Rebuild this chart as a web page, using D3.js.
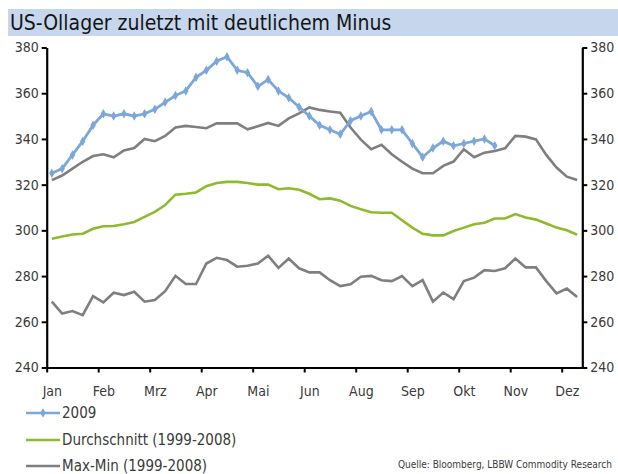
<!DOCTYPE html>
<html>
<head>
<meta charset="utf-8">
<script src="https://cdn.jsdelivr.net/npm/d3@7"></script>
<style>
  body { margin: 0; background: #fff; }
  text { font-family: "Liberation Sans Narrow", "DejaVu Sans Condensed", "Open Sans", sans-serif; }
</style>
</head>
<body>
<svg width="618" height="474"></svg>
<script>
// weekly values, Jan..Dez (52 weeks)
const monthLabels = ['Jan', 'Feb', 'Mrz', 'Apr', 'Mai', 'Jun', 'Aug', 'Sep', 'Okt', 'Nov', 'Dez'];
const labelWeeks = [0, 5, 10, 15, 20, 25, 30, 35, 40, 45, 50];
const yTicks = [240, 260, 280, 300, 320, 340, 360, 380];

const stocks2009 = [325, 327, 333, 339, 346, 351, 350, 351, 350, 351, 353, 356, 359, 361, 367, 370, 374, 376,
  370, 369, 363, 366, 361, 358, 354, 350, 346, 344, 342, 348, 350, 352, 344, 344, 344, 338, 332, 336,
  339, 337, 338, 339, 340, 337];

const average = [296.3, 297.3, 298.2, 298.5, 300.7, 301.8, 301.9, 302.7, 303.7, 305.9, 308.1, 311.1, 315.6,
  316, 316.6, 319.3, 320.7, 321.2, 321.2, 320.7, 320, 320, 318, 318.4, 317.8, 316, 313.6, 314, 313,
  310.7, 309.2, 307.9, 307.7, 307.7, 304.4, 301.2, 298.5, 297.8, 297.8, 299.7, 301.2, 302.7, 303.3,
  305.2, 305.2, 307.1, 305.6, 304.7, 303, 301.2, 300, 298.1];

const maxRange = [322, 324, 327, 330, 332.5, 333.3, 332, 335, 336, 340, 339, 341.3, 345, 345.7, 345.2, 344.7,
  346.8, 346.8, 346.8, 344.2, 345.5, 347, 345.7, 349, 351.2, 353.8, 352.7, 352, 351.5, 345, 339.7, 335.5,
  337.4, 333.3, 330, 327, 325, 325, 328.2, 330.1, 335.5, 332, 334, 334.7, 335.9, 341.3, 341, 339.8, 333,
  327.5, 323.5, 322];

const minRange = [268.8, 263.6, 264.7, 262.9, 271.2, 268.5, 272.7, 271.7, 273.1, 268.8, 269.5, 273.4, 280.1,
  276.5, 276.5, 285.5, 288, 287, 284.1, 284.5, 285.5, 288.9, 283.6, 287.7, 283.4, 281.6, 281.6, 278.2,
  275.6, 276.4, 279.7, 280.1, 278.2, 277.8, 280, 275.6, 278.2, 268.8, 272.8, 269.9, 277.8, 279.3, 282.6,
  282.2, 283.4, 287.7, 283.8, 283.8, 277.8, 272.4, 274.5, 270.8];

const blue = '#7ba7d9', green = '#8dbb2c', grey = '#7f7f7f', labelColor = '#3a3a3a';

const svg = d3.select('svg');

const plotLeft = 46.7, plotRight = 582.3, plotTop = 47.5, plotBottom = 367.5;

// x: week slots, points sit in the middle of each slot
const x = d3.scaleLinear().domain([0, 52]).range([plotLeft, plotRight]);
const y = d3.scaleLinear().domain([240, 380]).range([plotBottom, plotTop]);
const px = (d, i) => x(i + 0.5);

// title band
svg.append('rect')
  .attr('x', 8).attr('y', 9)
  .attr('width', 610).attr('height', 27)
  .attr('fill', '#c6d7ed');
svg.append('text')
  .attr('x', 10).attr('y', 30)
  .attr('font-size', 21)
  .attr('fill', '#151515')
  .text('US-Ollager zuletzt mit deutlichem Minus');

// axes
const yLeft = svg.append('g')
  .attr('transform', `translate(${plotLeft},0)`)
  .call(d3.axisLeft(y).tickValues(yTicks).tickSize(5).tickSizeOuter(0).tickPadding(3));
const yRight = svg.append('g')
  .attr('transform', `translate(${plotRight},0)`)
  .call(d3.axisRight(y).tickValues(yTicks).tickSize(5).tickSizeOuter(0).tickPadding(3));
const xAxis = svg.append('g')
  .attr('transform', `translate(0,${plotBottom})`)
  .call(d3.axisBottom(x).tickValues(labelWeeks).tickSize(5).tickSizeOuter(0)
    .tickFormat((d, i) => monthLabels[i]).tickPadding(14));

xAxis.selectAll('text').attr('dx', (x(1) - x(0)) / 2);

[yLeft, yRight, xAxis].forEach(g => {
  g.select('.domain').attr('stroke', '#000').attr('stroke-width', 2.2);
  g.selectAll('.tick line').attr('stroke', '#000').attr('stroke-width', 2);
  g.selectAll('text').attr('font-size', 14).attr('fill', labelColor)
    .attr('font-family', '"Liberation Sans Narrow", "DejaVu Sans Condensed", sans-serif');
});

// lines
const line = d3.line().x(px).y(d => y(d));

svg.append('path').datum(minRange)
  .attr('fill', 'none').attr('stroke', grey).attr('stroke-width', 2.6)
  .attr('d', line);
svg.append('path').datum(maxRange)
  .attr('fill', 'none').attr('stroke', grey).attr('stroke-width', 2.6)
  .attr('d', line);
svg.append('path').datum(average)
  .attr('fill', 'none').attr('stroke', green).attr('stroke-width', 2.6)
  .attr('d', line);
svg.append('path').datum(stocks2009)
  .attr('fill', 'none').attr('stroke', blue).attr('stroke-width', 2.8)
  .attr('d', line);

const diamond = d3.symbol().type(d3.symbolDiamond).size(26);
svg.selectAll('.marker')
  .data(stocks2009)
  .enter()
  .append('path')
  .attr('class', 'marker')
  .attr('transform', (d, i) => `translate(${px(d, i)},${y(d)})`)
  .attr('d', diamond)
  .attr('fill', blue);

// legend
const legendItems = [
  { name: '2009', color: blue, marker: true },
  { name: 'Durchschnitt (1999-2008)', color: green },
  { name: 'Max-Min (1999-2008)', color: grey }
];
const legend = svg.selectAll('.legend')
  .data(legendItems)
  .enter()
  .append('g')
  .attr('class', 'legend')
  .attr('transform', (d, i) => `translate(26,${[413, 440, 466][i]})`);
legend.append('line')
  .attr('x1', 0).attr('x2', 34)
  .attr('stroke', d => d.color).attr('stroke-width', 2.6);
legend.filter(d => d.marker).append('path')
  .attr('transform', 'translate(17,0)')
  .attr('d', diamond)
  .attr('fill', d => d.color);
legend.append('text')
  .attr('x', 36).attr('dy', '0.35em')
  .attr('font-size', 15)
  .attr('fill', labelColor)
  .text(d => d.name);

svg.append('text')
  .attr('x', 612).attr('y', 468)
  .attr('text-anchor', 'end')
  .attr('font-size', 10)
  .attr('fill', labelColor)
  .text('Quelle: Bloomberg, LBBW Commodity Research');
</script>
</body>
</html>
